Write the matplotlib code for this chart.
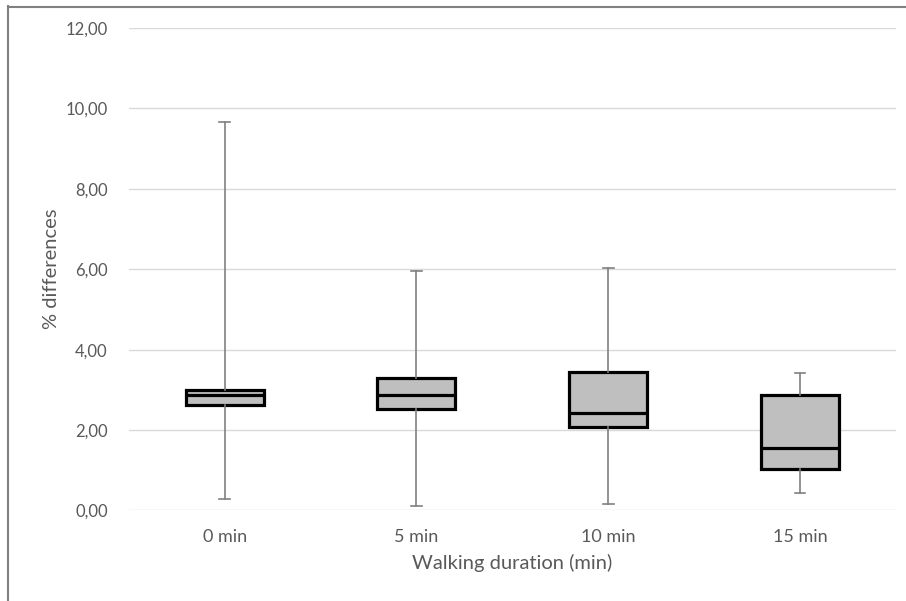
import matplotlib
matplotlib.use('Agg')
import matplotlib.pyplot as plt
from matplotlib.lines import Line2D
from matplotlib.ticker import FuncFormatter

plt.rcParams['font.family'] = ['Lato', 'DejaVu Sans']

categories = ['0 min', '5 min', '10 min', '15 min']
whisker_low = [0.28, 0.12, 0.16, 0.43]
q1 = [2.62, 2.52, 2.07, 1.03]
median = [2.86, 2.88, 2.42, 1.55]
q3 = [3.00, 3.30, 3.45, 2.86]
whisker_high = [9.65, 5.96, 6.04, 3.43]

stats = []
for i in range(len(categories)):
    stats.append({'label': categories[i], 'whislo': whisker_low[i], 'q1': q1[i],
                  'med': median[i], 'q3': q3[i], 'whishi': whisker_high[i], 'fliers': []})

fig = plt.figure(figsize=(9.06, 6.01), dpi=100)
ax = fig.add_axes([0.142, 0.1506, 0.847, 0.8028])

positions = list(range(1, len(categories) + 1))
ax.bxp(stats, positions=positions, widths=0.406, capwidths=0.055,
       showfliers=False, patch_artist=True,
       boxprops=dict(facecolor='#bfbfbf', edgecolor='black', linewidth=2.3),
       medianprops=dict(color='black', linewidth=2.3),
       whiskerprops=dict(color='#808080', linewidth=1.2),
       capprops=dict(color='#808080', linewidth=1.2),
       zorder=3)

ax.set_xlim(0.5, len(categories) + 0.5)
ax.set_ylim(0, 12)
ax.set_yticks(range(0, 13, 2))
ax.yaxis.set_major_formatter(FuncFormatter(lambda v, p: f'{v:.2f}'.replace('.', ',')))
ax.set_xticks(positions)
ax.set_xticklabels(categories)
ax.grid(axis='y', color='#d9d9d9', linewidth=1, zorder=0)
ax.set_axisbelow(True)
for s in ax.spines.values():
    s.set_visible(False)
ax.tick_params(axis='both', length=0, colors='#595959')
ax.tick_params(axis='y', pad=15, labelsize=12)
ax.tick_params(axis='x', pad=13, labelsize=13)

ax.set_ylabel('% differences', fontsize=14.5, color='#595959', labelpad=4)
ax.set_xlabel('Walking duration (min)', fontsize=14.5, color='#595959', labelpad=7)

# outer frame (left and top only, like the cropped export)
fig.add_artist(Line2D([8 / 906, 8 / 906], [0, 1 - 6 / 601], transform=fig.transFigure,
                      color='#808080', linewidth=1.5))
fig.add_artist(Line2D([8 / 906, 1], [1 - 6.5 / 601, 1 - 6.5 / 601], transform=fig.transFigure,
                      color='#808080', linewidth=1.5))

fig.savefig('out.png', dpi=100)
